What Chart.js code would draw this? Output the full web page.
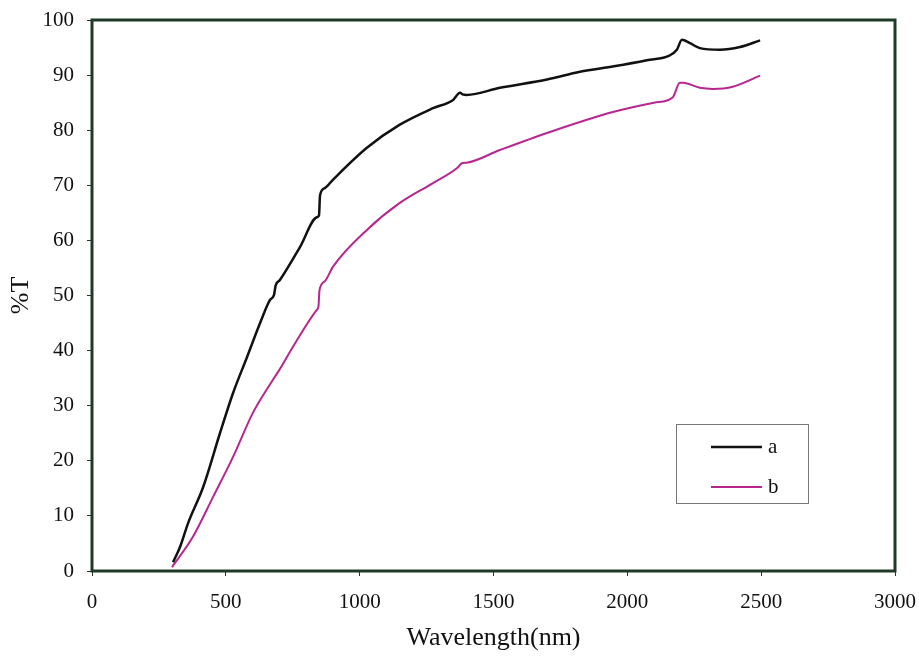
<!DOCTYPE html>
<html>
<head>
<meta charset="utf-8">
<script src="https://cdn.jsdelivr.net/npm/chart.js@4.4.0/dist/chart.umd.min.js"></script>
<style>
  html, body { margin: 0; padding: 0; background: #fff; }
  #wrap { width: 919px; height: 660px; }
</style>
</head>
<body>
<div id="wrap"><canvas id="myChart"></canvas></div>
<script>
// sample a
const waveA = [303, 330, 359, 415, 478, 527, 579, 628, 665, 680, 686, 702, 777, 840, 848, 852, 870, 900, 1027, 1150, 1274, 1349, 1375, 1385, 1400, 1524, 1700, 1823, 1950, 2073, 2159, 2185, 2204, 2234, 2271, 2346, 2421, 2496];
const transA = [1.6, 4.5, 8.7, 15.2, 25, 32.3, 38.8, 45, 49.2, 50.1, 51.8, 52.8, 58.8, 64.2, 64.5, 68.2, 69.5, 71, 76.8, 81, 84, 85.5, 86.8, 86.5, 86.4, 87.7, 89.2, 90.6, 91.6, 92.7, 93.6, 94.6, 96.4, 95.8, 94.9, 94.6, 95.1, 96.3];

// sample b
const waveB = [299, 377, 452, 527, 601, 676, 700, 751, 840, 846, 850, 870, 900, 1027, 1150, 1274, 1363, 1382, 1400, 1524, 1700, 1946, 2100, 2170, 2196, 2208, 2271, 2320, 2394, 2496];
const transB = [0.7, 6.2, 13.4, 20.7, 28.7, 34.7, 36.5, 40.7, 47.4, 48, 51, 52.6, 55.2, 61.9, 66.8, 70.4, 73.1, 74, 74.1, 76.4, 79.5, 83.3, 85, 86, 88.6, 88.6, 87.7, 87.5, 87.9, 89.9];

const labels = ['a', 'b'];
const colors = ['#111111', '#b8268f'];

const frameColor = '#1f3a27';
const serif = "'Liberation Serif', 'Times New Roman', serif";

const toPoints = (xs, ys) => xs.map((x, i) => ({x: x, y: ys[i]}));

// frame around the plot + legend box inside the chart
const framePlugin = {
    id: 'frame',
    afterDraw(chart) {
        const {ctx, chartArea: a} = chart;
        ctx.save();
        ctx.strokeStyle = frameColor;
        ctx.lineWidth = 3;
        ctx.strokeRect(a.left, a.top, a.right - a.left, a.bottom - a.top);

        // legend
        const bx = a.right - 219, by = a.bottom - 147, bw = 132, bh = 79;
        ctx.fillStyle = '#fff';
        ctx.fillRect(bx, by, bw, bh);
        ctx.strokeStyle = '#777';
        ctx.lineWidth = 1;
        ctx.strokeRect(bx + 0.5, by + 0.5, bw, bh);
        ctx.font = '21px ' + serif;
        ctx.textBaseline = 'middle';
        chart.data.datasets.forEach((ds, i) => {
            const y = by + 23 + i * 40;
            ctx.strokeStyle = ds.borderColor;
            ctx.lineWidth = ds.borderWidth;
            ctx.beginPath();
            ctx.moveTo(bx + 35, y);
            ctx.lineTo(bx + 86, y);
            ctx.stroke();
            ctx.fillStyle = '#111';
            ctx.fillText(ds.label, bx + 92, y);
        });
        ctx.restore();
    }
};

new Chart(document.getElementById('myChart'), {
    type: 'line',
    data: {
        datasets: [{
            label: labels[0],
            data: toPoints(waveA, transA),
            borderColor: colors[0],
            borderWidth: 2.5
        }, {
            label: labels[1],
            data: toPoints(waveB, transB),
            borderColor: colors[1],
            borderWidth: 2
        }]
    },
    options: {
        responsive: true,
        maintainAspectRatio: false,
        animation: false,
        layout: { padding: { top: 20, right: 24, left: 0, bottom: 0 } },
        elements: {
            point: { radius: 0 },
            line: { cubicInterpolationMode: 'monotone', fill: false }
        },
        plugins: {
            legend: { display: false },
            tooltip: { enabled: false }
        },
        scales: {
            x: {
                type: 'linear',
                min: 0,
                max: 3000,
                afterFit: (s) => { s.height = 89; s.paddingLeft = 0; s.paddingRight = 0; },
                ticks: { stepSize: 500, padding: 14, color: '#111', font: { family: serif, size: 21 },
                         callback: (v) => String(v) },
                grid: { drawOnChartArea: false, drawTicks: true, tickLength: 5, color: frameColor },
                border: { display: false },
                title: { display: true, text: 'Wavelength(nm)', color: '#111', font: { family: serif, size: 26 }, padding: { top: 6, bottom: 6 } }
            },
            y: {
                min: 0,
                max: 100,
                afterFit: (s) => { s.width = 92; s.paddingTop = 0; s.paddingBottom = 0; },
                ticks: { stepSize: 10, padding: 13, color: '#111', font: { family: serif, size: 21 } },
                grid: { drawOnChartArea: false, drawTicks: true, tickLength: 5, color: frameColor },
                border: { display: false },
                title: { display: true, text: '%T', color: '#111', font: { family: serif, size: 26 }, padding: { top: 6, bottom: 6 } }
            }
        }
    },
    plugins: [framePlugin]
});
</script>
</body>
</html>
